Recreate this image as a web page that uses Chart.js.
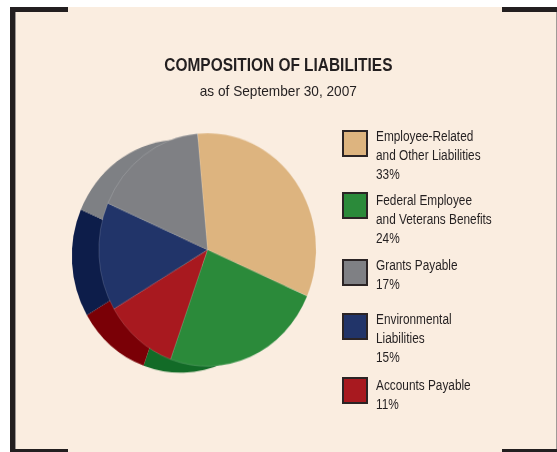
<!DOCTYPE html>
<html>
<head>
<meta charset="utf-8">
<script src="https://cdn.jsdelivr.net/npm/chart.js@4.4.1/dist/chart.umd.min.js"></script>
<style>
  html, body { margin: 0; padding: 0; background: #fff; }
  #page {
    position: relative; width: 557px; height: 452px; overflow: hidden; background: #fff;
    font-family: "Liberation Sans", Arial, sans-serif; color: #231f20;
  }
  #panel { position: absolute; left: 10px; top: 7px; width: 547px; height: 445px; background: #faede0; }
  .bar { position: absolute; background: #231f20; }
  #pieWrap {
    position: absolute; left: 0; top: 0; width: 557px; height: 452px;
    transform-origin: 207.5px 249.7px; transform: scaleY(1.073);
  }
  .head { position: absolute; left: 0; width: 557px; text-align: center; white-space: nowrap; }
  .head span { display: inline-block; transform-origin: 50% 50%; }
  #title { top: 54.6px; font-size: 18.6px; line-height: 20px; font-weight: bold; }
  #title span { transform: scaleX(0.83); }
  #subtitle { top: 81.5px; font-size: 15px; line-height: 18px; }
  #subtitle span { transform: scaleX(0.91); }
  .lbox {
    position: absolute; left: 342px; width: 26px; height: 27px; box-sizing: border-box;
    border: 2px solid #2b2425;
  }
  .ltext {
    position: absolute; left: 376px; font-size: 14px; line-height: 19px; white-space: nowrap;
    transform: scaleX(0.845); transform-origin: 0 0;
  }
</style>
</head>
<body>
<div id="page">
  <div id="panel"></div>
  <div class="bar" style="left:10px;top:7px;width:5px;height:445px"></div>
  <div class="bar" style="left:15px;top:12px;width:1px;height:437px;background:#9c9592"></div>
  <div class="bar" style="left:10px;top:7px;width:58px;height:5px"></div>
  <div class="bar" style="left:502px;top:7px;width:55px;height:5px"></div>
  <div class="bar" style="left:10px;top:449px;width:58px;height:3px"></div>
  <div class="bar" style="left:502px;top:449px;width:55px;height:3px"></div>
  <div class="bar" style="left:556px;top:12px;width:1px;height:437px;background:#a09a96"></div>
  <div id="pieWrap"><canvas id="pie" width="557" height="452"></canvas></div>
  <div id="title" class="head"><span>COMPOSITION OF LIABILITIES</span></div>
  <div id="subtitle" class="head"><span>as of September 30, 2007</span></div>
  <div id="legend"></div>
</div>
<script>
// slices in clockwise order from the top
const categories = [
  ['Employee-Related', 'and Other Liabilities'],
  ['Federal Employee', 'and Veterans Benefits'],
  ['Accounts Payable'],
  ['Environmental', 'Liabilities'],
  ['Grants Payable']
];
const values = [33, 24, 11, 15, 17];
const faceColors = ['#ddb47f', '#2b8a3a', '#a8191f', '#213469', '#7f8084'];
const sideColors = ['#c29a67', '#126b27', '#7a0006', '#0d1d4a', '#7e8084'];
const legendOrder = [0, 1, 4, 3, 2];

// legend layout
const legendBoxTop = [130, 192, 259, 313, 377];
const legendTextTop = [126.5, 191, 255.5, 310, 376];

// the darker "side" of the pie, drawn as the same arcs shifted left
const sidePlugin = {
  id: 'pieSide',
  beforeDatasetsDraw(chart) {
    const ctx = chart.ctx;
    const meta = chart.getDatasetMeta(0);
    ctx.save();
    ctx.translate(-27, 5.9);
    meta.data.forEach((arc, i) => {
      const p = arc.getProps(['x', 'y', 'startAngle', 'endAngle', 'outerRadius'], true);
      ctx.beginPath();
      ctx.moveTo(p.x, p.y);
      ctx.arc(p.x, p.y, p.outerRadius, p.startAngle, p.endAngle);
      ctx.closePath();
      ctx.fillStyle = sideColors[i];
      ctx.fill();
    });
    ctx.restore();
  }
};

new Chart(document.getElementById('pie'), {
  type: 'pie',
  data: {
    labels: categories.map(c => c.join(' ')),
    datasets: [{
      data: values,
      backgroundColor: faceColors,
      borderColor: 'rgba(255,255,255,0.22)',
      borderWidth: 0.7,
      hoverBorderWidth: 0.7,
      hoverOffset: 0
    }]
  },
  options: {
    responsive: false,
    animation: false,
    rotation: -5.3,
    layout: { padding: { left: 98.5, right: 240.5, top: 140.7, bottom: 93.3 } },
    plugins: { legend: { display: false }, tooltip: { enabled: false } },
    events: []
  },
  plugins: [sidePlugin]
});

const legend = document.getElementById('legend');
legendOrder.forEach((idx, k) => {
  const box = document.createElement('div');
  box.className = 'lbox';
  box.style.top = legendBoxTop[k] + 'px';
  box.style.background = faceColors[idx];
  legend.appendChild(box);
  const txt = document.createElement('div');
  txt.className = 'ltext';
  txt.style.top = legendTextTop[k] + 'px';
  txt.innerHTML = categories[idx].concat([values[idx] + '%']).join('<br>');
  legend.appendChild(txt);
});
</script>
</body>
</html>
